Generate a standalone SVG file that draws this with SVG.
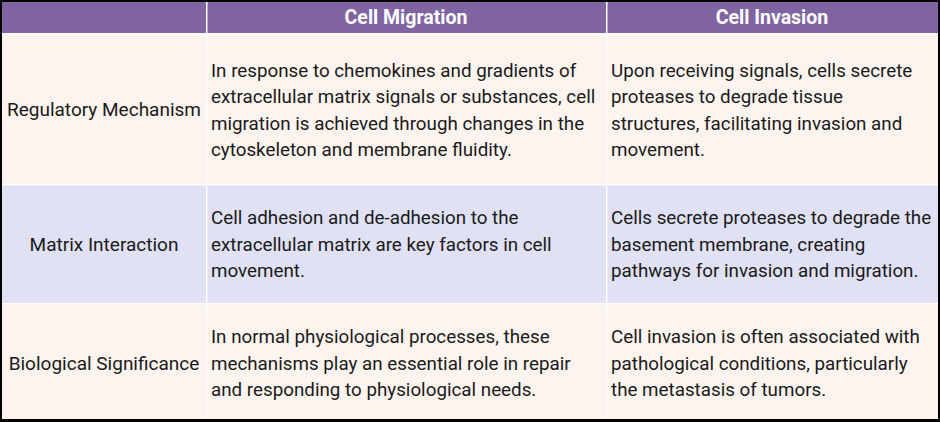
<svg xmlns="http://www.w3.org/2000/svg" width="940" height="422" viewBox="0 0 940 422">
<style>
.hd{fill:#8064a2}
.pe{fill:#fdf4ef}
.lv{fill:#e0e1f5}
.ht{font-family:Roboto,"Liberation Sans",sans-serif;font-size:19.5px;font-weight:bold;fill:#ffffff;text-anchor:middle}
.lb{font-family:Roboto,"Liberation Sans",sans-serif;font-size:19px;fill:#1a1a1a;text-anchor:middle}
.tx{font-family:Roboto,"Liberation Sans",sans-serif;font-size:18.8px;fill:#1a1a1a}
</style>
<rect x="0" y="0" width="940" height="422" fill="#000000"/>
<rect x="2" y="2" width="936" height="417" fill="#ffffff"/>
<g id="header">
<rect class="hd" x="2" y="2" width="204" height="31"/>
<rect class="hd" x="207.5" y="2" width="398.5" height="31"/>
<rect class="hd" x="607.5" y="2" width="330.5" height="31"/>
<text class="ht" x="406" y="24">Cell Migration</text>
<text class="ht" x="772" y="24">Cell Invasion</text>
</g>
<g id="row1">
<rect class="pe" x="2" y="34" width="204" height="150"/>
<rect class="pe" x="207.5" y="34" width="398.5" height="150"/>
<rect class="pe" x="607.5" y="34" width="330.5" height="150"/>
<text class="lb" x="104" y="116">Regulatory Mechanism</text>
<text class="tx" x="211" y="76.5">In response to chemokines and gradients of</text>
<text class="tx" x="211" y="103">extracellular matrix signals or substances, cell</text>
<text class="tx" x="211" y="129.5">migration is achieved through changes in the</text>
<text class="tx" x="211" y="156">cytoskeleton and membrane fluidity.</text>
<text class="tx" x="611" y="76.5">Upon receiving signals, cells secrete</text>
<text class="tx" x="611" y="103">proteases to degrade tissue</text>
<text class="tx" x="611" y="129.5">structures, facilitating invasion and</text>
<text class="tx" x="611" y="156">movement.</text>
</g>
<g id="row2">
<rect class="lv" x="2" y="185.5" width="204" height="117.5"/>
<rect class="lv" x="207.5" y="185.5" width="398.5" height="117.5"/>
<rect class="lv" x="607.5" y="185.5" width="330.5" height="117.5"/>
<text class="lb" x="104" y="250.5">Matrix Interaction</text>
<text class="tx" x="211" y="224">Cell adhesion and de-adhesion to the</text>
<text class="tx" x="211" y="250.5">extracellular matrix are key factors in cell</text>
<text class="tx" x="211" y="277">movement.</text>
<text class="tx" x="611" y="224">Cells secrete proteases to degrade the</text>
<text class="tx" x="611" y="250.5">basement membrane, creating</text>
<text class="tx" x="611" y="277">pathways for invasion and migration.</text>
</g>
<g id="row3">
<rect class="pe" x="2" y="304.5" width="204" height="114.5"/>
<rect class="pe" x="207.5" y="304.5" width="398.5" height="114.5"/>
<rect class="pe" x="607.5" y="304.5" width="330.5" height="114.5"/>
<text class="lb" x="104" y="370">Biological Significance</text>
<text class="tx" x="211" y="343">In normal physiological processes, these</text>
<text class="tx" x="211" y="369.5">mechanisms play an essential role in repair</text>
<text class="tx" x="211" y="396">and responding to physiological needs.</text>
<text class="tx" x="611" y="343">Cell invasion is often associated with</text>
<text class="tx" x="611" y="369.5">pathological conditions, particularly</text>
<text class="tx" x="611" y="396">the metastasis of tumors.</text>
</g>
<g id="connectors"></g>
</svg>
